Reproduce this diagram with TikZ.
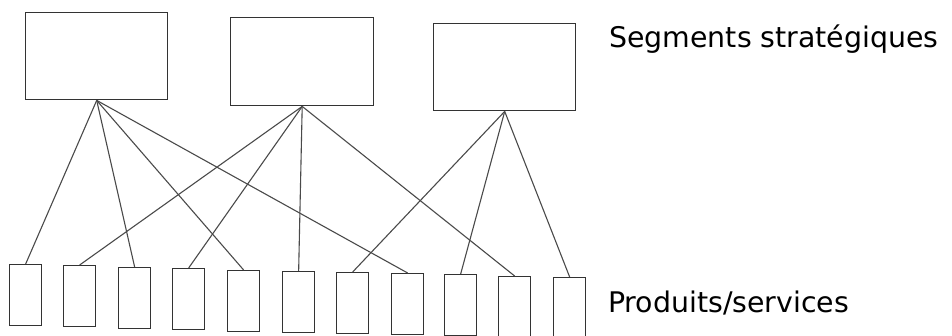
\documentclass[tikz,border=0pt]{standalone}
\usepackage{fontspec}
\setmainfont{DejaVu Sans}
\definecolor{boxgray}{HTML}{333333}
\definecolor{linegray}{HTML}{4A4A4A}
\begin{document}
\begin{tikzpicture}[x=1pt,y=-1pt,
  seg/.style={draw=boxgray, line width=1.4pt, minimum width=142pt, inner sep=0pt, anchor=north west},
  prod/.style={draw=boxgray, line width=1.3pt, minimum width=32pt, minimum height=61pt, inner sep=0pt, anchor=north west},
  link/.style={draw=linegray, line width=1.1pt},
  lbl/.style={font=\fontsize{28.4}{34}\selectfont, anchor=base west, inner sep=0pt, text=black}]
\useasboundingbox (0,0) rectangle (952,335);
% strategic segments
\node[seg, minimum height=87pt] (s1) at (25,12) {};
\node[seg, minimum height=88pt, minimum width=143pt] (s2) at (230,17) {};
\node[seg, minimum height=87pt] (s3) at (433,23) {};
% products / services
\node[prod] (pa) at (9,264) {};
\node[prod] (pb) at (63,265) {};
\node[prod] (pc) at (118,267) {};
\node[prod] (pd) at (172,268) {};
\node[prod] (pe) at (227,270) {};
\node[prod] (pf) at (282,271) {};
\node[prod] (pg) at (336,272) {};
\node[prod] (ph) at (391,273) {};
\node[prod] (pi) at (444,274) {};
\node[prod] (pj) at (498,276) {};
\node[prod] (pk) at (553,277) {};
% links
\foreach \p in {pa,pc,pe,ph} \draw[link] (s1.south) -- (\p.north);
\foreach \p in {pb,pd,pf,pj} \draw[link] (s2.south) -- (\p.north);
\foreach \p in {pg,pi,pk} \draw[link] (s3.south) -- (\p.north);
% labels
\node[lbl] (t1) at (609,47) {Segments stratégiques};
\node[lbl] (t2) at (608,312) {Produits/services};
\end{tikzpicture}
\end{document}
